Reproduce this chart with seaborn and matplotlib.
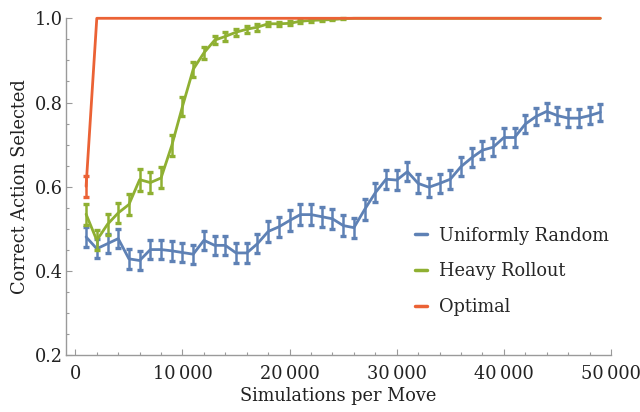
import numpy as np
import pandas as pd
import seaborn as sns
import matplotlib.pyplot as plt
from matplotlib.lines import Line2D
from matplotlib.ticker import MultipleLocator, FuncFormatter

# simulations per move (x positions of the samples)
sims = list(range(1000, 50000, 1000))

uniform_random = [0.481, 0.453, 0.465, 0.477, 0.429, 0.425, 0.451, 0.451, 0.448, 0.444,
                  0.440, 0.473, 0.461, 0.461, 0.443, 0.443, 0.465, 0.494, 0.505, 0.520,
                  0.534, 0.534, 0.529, 0.524, 0.508, 0.503, 0.546, 0.586, 0.618, 0.616,
                  0.636, 0.608, 0.599, 0.608, 0.618, 0.648, 0.669, 0.687, 0.694, 0.717,
                  0.717, 0.749, 0.767, 0.779, 0.769, 0.763, 0.763, 0.769, 0.777]
uniform_err = [0.023, 0.023, 0.023, 0.023, 0.023, 0.023, 0.023, 0.023, 0.023, 0.023,
               0.023, 0.023, 0.023, 0.023, 0.023, 0.023, 0.023, 0.024, 0.024, 0.024,
               0.024, 0.024, 0.024, 0.024, 0.024, 0.024, 0.024, 0.023, 0.023, 0.023,
               0.023, 0.023, 0.023, 0.023, 0.023, 0.023, 0.022, 0.022, 0.022, 0.022,
               0.022, 0.021, 0.021, 0.020, 0.021, 0.021, 0.021, 0.021, 0.020]

heavy_rollout = [0.535, 0.473, 0.511, 0.538, 0.558, 0.617, 0.610, 0.621, 0.698, 0.791,
                 0.879, 0.918, 0.948, 0.957, 0.967, 0.974, 0.979, 0.987, 0.987, 0.988,
                 0.993, 0.995, 0.996, 0.997, 0.999, 1.0, 1.0, 1.0, 1.0, 1.0,
                 1.0, 1.0, 1.0, 1.0, 1.0, 1.0, 1.0, 1.0, 1.0, 1.0,
                 1.0, 1.0, 1.0, 1.0, 1.0, 1.0, 1.0, 1.0, 1.0]
heavy_err = [0.025, 0.024, 0.025, 0.023, 0.025, 0.026, 0.025, 0.025, 0.024, 0.022,
             0.018, 0.015, 0.010, 0.011, 0.008, 0.008, 0.008, 0.005, 0.005, 0.005,
             0.004, 0.003, 0.003, 0.002, 0.001, 0, 0, 0, 0, 0,
             0, 0, 0, 0, 0, 0, 0, 0, 0, 0,
             0, 0, 0, 0, 0, 0, 0, 0, 0]

optimal = [0.601] + [1.0] * 48
optimal_err = [0.025] + [0.0] * 48

labels = ['Uniformly Random', 'Heavy Rollout', 'Optimal']
colors = ['#5E81B5', '#8FB032', '#EB6235']

sns.set_theme(style='ticks')
plt.rcParams['font.family'] = ['DejaVu Serif']
fs = 12.75

df = pd.DataFrame({
    'sims': sims * 3,
    'value': uniform_random + heavy_rollout + optimal,
    'err': uniform_err + heavy_err + optimal_err,
    'series': [l for l in labels for _ in sims],
})

fig = plt.figure(figsize=(6.4, 4.12), dpi=100)
ax = fig.add_axes([0.1027, 0.1376, 0.852, 0.818])

for label, color in zip(labels, colors):
    sub = df[df['series'] == label]
    sns.lineplot(data=sub, x='sims', y='value', color=color, lw=2.0, ax=ax,
                 legend=False, clip_on=False, zorder=3)
    bars = sub[sub['err'] > 0]
    ax.errorbar(bars['sims'], bars['value'], yerr=bars['err'], fmt='none',
                ecolor=color, elinewidth=1.8, capsize=2.3, capthick=2.4,
                clip_on=False, zorder=3)

ax.set_xlim(-900, 50000)
ax.set_ylim(0.2, 1.0)
ax.xaxis.set_major_locator(MultipleLocator(10000))
ax.xaxis.set_minor_locator(MultipleLocator(2000))
ax.yaxis.set_major_locator(MultipleLocator(0.2))
ax.yaxis.set_minor_locator(MultipleLocator(0.05))
ax.xaxis.set_major_formatter(FuncFormatter(lambda v, p: f"{int(v):,}".replace(',', '\u2009')))
ax.yaxis.set_major_formatter(FuncFormatter(lambda v, p: f"{v:.1f}"))

sns.despine(ax=ax)
for side in ['left', 'bottom']:
    ax.spines[side].set_color('#9a9a9a')
    ax.spines[side].set_linewidth(1.0)
ax.tick_params(which='both', direction='in', color='#9a9a9a', width=0.8,
               labelsize=fs, labelcolor='#222222')
ax.tick_params(axis='x', pad=7)
ax.tick_params(axis='y', pad=2)
ax.tick_params(which='major', length=4)
ax.tick_params(which='minor', length=2.2)

ax.set_xlabel('Simulations per Move', fontsize=fs, color='#222222', labelpad=3)
ax.set_ylabel('Correct Action Selected', fontsize=fs, color='#222222', labelpad=4)

handles = [Line2D([], [], color=c, lw=2.5) for c in colors]
ax.legend(handles, labels, loc='upper left', bbox_to_anchor=(0.64, 0.382),
          frameon=False, fontsize=fs, handlelength=0.68, handletextpad=0.68,
          labelspacing=1.0, borderaxespad=0, borderpad=0)

fig.savefig('out.png', dpi=100)
